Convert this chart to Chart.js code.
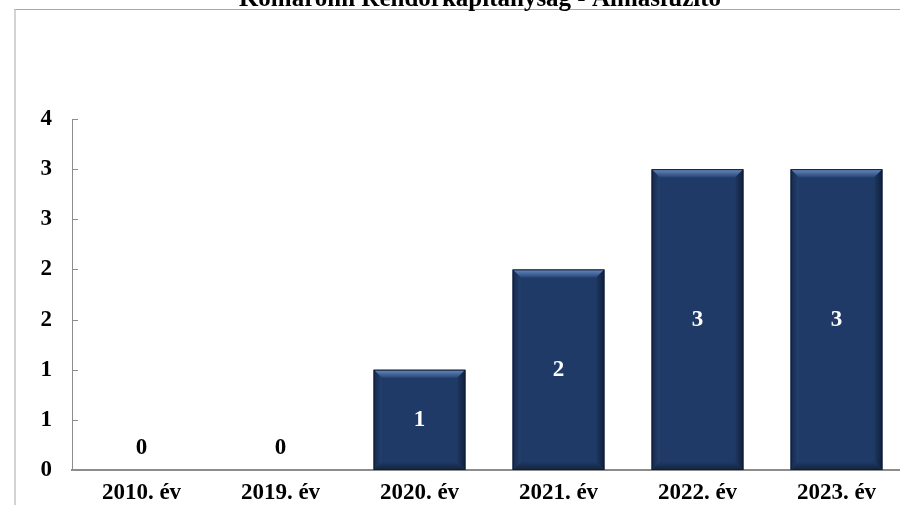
<!DOCTYPE html>
<html>
<head>
<meta charset="utf-8">
<script src="https://cdn.jsdelivr.net/npm/chart.js@4.4.1/dist/chart.umd.min.js"></script>
<style>
  html, body { margin: 0; padding: 0; background: #fff; overflow: hidden; }
  #wrap { position: relative; width: 900px; height: 505px; overflow: hidden; }
  #frame { position: absolute; left: 14px; top: 9px; right: -5px; bottom: -5px;
           border-top: 1px solid #a8a8a8; border-left: 2px solid #d4d4d4; }
  canvas { position: absolute; left: 0; top: 0; }
</style>
</head>
<body>
<div id="wrap">
  <div id="frame"></div>
  <canvas id="chart" width="906" height="505"></canvas>
</div>
<script>
// adatok
const chartTitle = 'Komáromi Rendőrkapitányság - Almásfüzitő';
const years = ['2010. év', '2019. év', '2020. év', '2021. év', '2022. év', '2023. év'];
const cases = [0, 0, 1, 2, 3, 3];
const yMin = 0;
const yMax = 3.5;
const yStep = 0.5;

const serif = '"Liberation Serif", "Times New Roman", serif';
const barColor = '#1f3a66';

// cím - a kép tetején félig levágva
const titlePlugin = {
  id: 'titlePlugin',
  afterDraw(chart) {
    const ctx = chart.ctx;
    ctx.save();
    ctx.font = 'bold 25px ' + serif;
    ctx.fillStyle = '#000';
    ctx.textAlign = 'center';
    ctx.textBaseline = 'alphabetic';
    ctx.fillText(chartTitle, 480, 6);
    ctx.restore();
  }
};

// belső osztásjelek az y tengelyen
const innerTicks = {
  id: 'innerTicks',
  afterDraw(chart) {
    const ctx = chart.ctx;
    const y = chart.scales.y;
    const left = chart.chartArea.left;
    ctx.save();
    ctx.strokeStyle = '#8c8c8c';
    ctx.lineWidth = 1;
    y.ticks.forEach(t => {
      const py = Math.round(y.getPixelForValue(t.value)) + 0.5;
      ctx.beginPath();
      ctx.moveTo(left, py);
      ctx.lineTo(left + 6, py);
      ctx.stroke();
    });
    ctx.restore();
  }
};

// domború oszlopok + értékcímkék
const bevelBars = {
  id: 'bevelBars',
  afterDatasetsDraw(chart) {
    const ctx = chart.ctx;
    const meta = chart.getDatasetMeta(0);
    ctx.save();
    meta.data.forEach((bar, i) => {
      const p = bar.getProps(['x', 'y', 'base', 'width'], true);
      const l = p.x - p.width / 2, r = p.x + p.width / 2;
      const t = p.y, b = p.base;
      const h = b - t;
      if (h > 2) {
        const e = 8;
        // felső él
        let g = ctx.createLinearGradient(0, t, 0, t + e);
        g.addColorStop(0, '#6a8cc0');
        g.addColorStop(1, '#27477a');
        ctx.fillStyle = g;
        ctx.beginPath();
        ctx.moveTo(l, t); ctx.lineTo(r, t); ctx.lineTo(r - e, t + e); ctx.lineTo(l + e, t + e);
        ctx.closePath(); ctx.fill();
        // bal oldal
        g = ctx.createLinearGradient(l, 0, l + e, 0);
        g.addColorStop(0, '#16294a');
        g.addColorStop(1, '#23406e');
        ctx.fillStyle = g;
        ctx.beginPath();
        ctx.moveTo(l, t); ctx.lineTo(l + e, t + e); ctx.lineTo(l + e, b - e); ctx.lineTo(l, b);
        ctx.closePath(); ctx.fill();
        // jobb oldal
        g = ctx.createLinearGradient(r, 0, r - e, 0);
        g.addColorStop(0, '#101f3a');
        g.addColorStop(1, '#1d3760');
        ctx.fillStyle = g;
        ctx.beginPath();
        ctx.moveTo(r, t); ctx.lineTo(r - e, t + e); ctx.lineTo(r - e, b - e); ctx.lineTo(r, b);
        ctx.closePath(); ctx.fill();
        // alsó él
        g = ctx.createLinearGradient(0, b, 0, b - e);
        g.addColorStop(0, '#12233f');
        g.addColorStop(1, '#1e3963');
        ctx.fillStyle = g;
        ctx.beginPath();
        ctx.moveTo(l, b); ctx.lineTo(r, b); ctx.lineTo(r - e, b - e); ctx.lineTo(l + e, b - e);
        ctx.closePath(); ctx.fill();
        ctx.strokeStyle = '#0e1c36';
        ctx.lineWidth = 1;
        ctx.strokeRect(l + 0.5, t + 0.5, p.width - 1, h - 1);
      }
      const v = cases[i];
      ctx.font = 'bold 23px ' + serif;
      ctx.textAlign = 'center';
      ctx.textBaseline = 'middle';
      if (v > 0) {
        ctx.fillStyle = '#ffffff';
        ctx.fillText(String(v), p.x, (t + b) / 2);
      } else {
        ctx.fillStyle = '#000000';
        ctx.fillText(String(v), p.x, b - 22);
      }
    });
    ctx.restore();
  }
};

new Chart(document.getElementById('chart'), {
  type: 'bar',
  data: {
    labels: years,
    datasets: [{
      data: cases,
      backgroundColor: barColor,
      borderWidth: 0,
      barPercentage: 0.66,
      categoryPercentage: 1
    }]
  },
  options: {
    responsive: false,
    animation: false,
    events: [],
    layout: { padding: { top: 119, left: 0, right: 0, bottom: 0 } },
    plugins: {
      legend: { display: false },
      tooltip: { enabled: false },
      title: { display: false }
    },
    scales: {
      x: {
        grid: { display: false, drawTicks: false },
        border: { display: true, color: '#8c8c8c', width: 2 },
        ticks: {
          color: '#000',
          font: { family: serif, size: 23, weight: 'bold' },
          padding: 9,
          maxRotation: 0
        },
        afterFit(scale) { scale.height = 35; }
      },
      y: {
        min: yMin,
        max: yMax,
        grid: { display: false, drawTicks: false },
        border: { display: true, color: '#8c8c8c', width: 1 },
        ticks: {
          stepSize: yStep,
          color: '#000',
          font: { family: serif, size: 23, weight: 'bold' },
          padding: 20,
          callback: v => String(Math.round(v))
        },
        afterFit(scale) { scale.width = 72; }
      }
    }
  },
  plugins: [titlePlugin, innerTicks, bevelBars]
});
</script>
</body>
</html>
